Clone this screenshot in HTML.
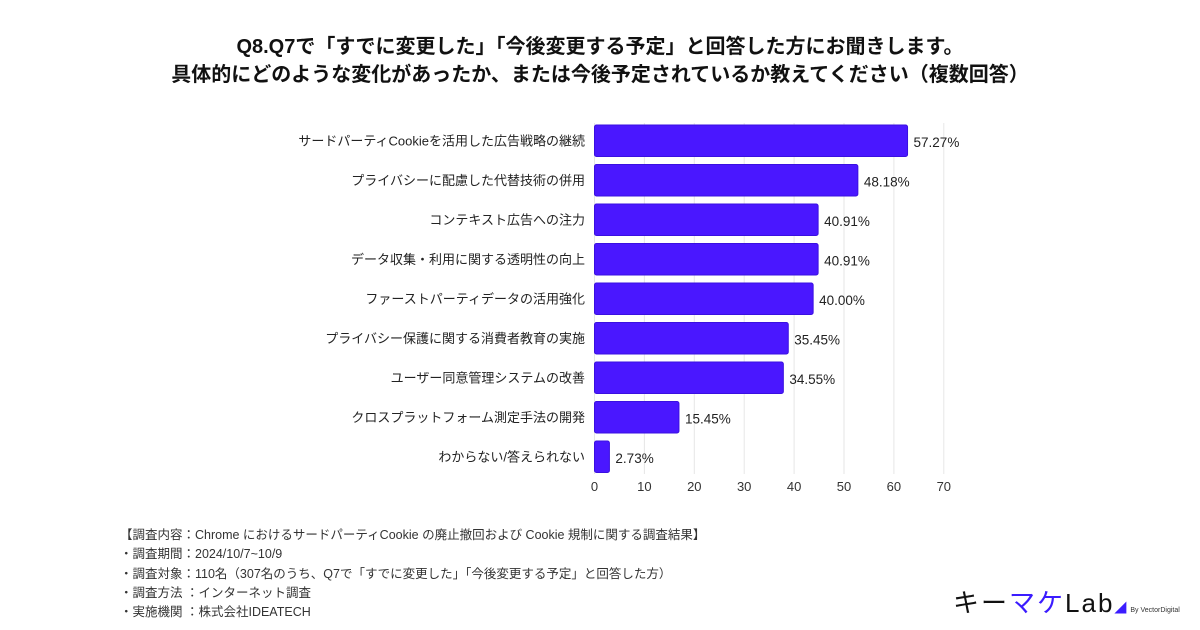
<!DOCTYPE html>
<html><head><meta charset="utf-8"><style>
body{margin:0;width:1200px;height:630px;background:#fff;overflow:hidden;font-family:"Liberation Sans","Noto Sans CJK JP",sans-serif;position:relative}
.title{position:absolute;left:0;width:1200px;top:33px;text-align:center;font-weight:bold;font-size:20px;line-height:28px;color:#111}
.foot{position:absolute;left:120px;top:526px;font-size:12.5px;line-height:19.3px;color:#333}
</style></head><body>
<div class="title">Q8.Q7で「すでに変更した」「今後変更する予定」と回答した方にお聞きします。<br>具体的にどのような変化があったか、または今後予定されているか教えてください（複数回答）</div>
<svg id="chart" width="1200" height="630" style="position:absolute;left:0;top:0"></svg>
<div class="foot">【調査内容：Chrome におけるサードパーティCookie の廃止撤回および Cookie 規制に関する調査結果】<br>・調査期間：2024/10/7~10/9<br>・調査対象：110名（307名のうち、Q7で「すでに変更した」「今後変更する予定」と回答した方）<br>・調査方法 ：インターネット調査<br>・実施機関 ：株式会社IDEATECH</div>
<div style="position:absolute;left:953px;top:590px;font-size:26px;font-weight:normal;letter-spacing:2px;line-height:26px"><span style="color:#111">キー</span><span style="color:#3b1cff">マケ</span><span style="color:#111">Lab</span><span style="color:#3b1cff;font-size:12px">◢</span><span style="font-size:7px;color:#333;letter-spacing:0;font-weight:normal"> By VectorDigital</span></div>
<script>
const categories=["サードパーティCookieを活用した広告戦略の継続","プライバシーに配慮した代替技術の併用","コンテキスト広告への注力","データ収集・利用に関する透明性の向上","ファーストパーティデータの活用強化","プライバシー保護に関する消費者教育の実施","ユーザー同意管理システムの改善","クロスプラットフォーム測定手法の開発","わからない/答えられない"];
const values=[57.27,48.18,40.91,40.91,40.00,35.45,34.55,15.45,2.73];
const valueLabels=["57.27%","48.18%","40.91%","40.91%","40.00%","35.45%","34.55%","15.45%","2.73%"];
const ticks=[0,10,20,30,40,50,60,70];
const NS="http://www.w3.org/2000/svg";
const svg=document.getElementById('chart');
const x0=594.5, axisScale=4.99, barScale=5.466;
const xAxis=v=>x0+v*axisScale;
const xBar=v=>v*barScale;
const yBand=i=>125+i*39.5;
const bh=31.5;
function mk(t,a){const e=document.createElementNS(NS,t);for(const k in a)e.setAttribute(k,a[k]);svg.appendChild(e);return e;}
ticks.forEach(t=>{
 const l=mk('line',{x1:xAxis(t),x2:xAxis(t),y1:123,y2:474,stroke:'#e6e6e6','stroke-width':1});
 
 
 const tx=mk('text',{x:xAxis(t),y:491,'text-anchor':'middle','font-size':13,fill:'#333'});
 tx.textContent=t;
 
 
});
categories.forEach((c,i)=>{
 const y=yBand(i);
 const r=mk('rect',{x:x0,y:y,width:xBar(values[i]),height:bh,rx:2,fill:'#4a17ff',stroke:'#3a10e0','stroke-width':1});
 
 
 const lb=mk('text',{x:585,y:y+bh/2+4.5,'text-anchor':'end','font-size':13,fill:'#222'});
 lb.textContent=c;
 
 
 const vl=mk('text',{x:x0+xBar(values[i])+6,y:y+bh/2+6,'font-size':13.5,fill:'#222'});
 vl.textContent=valueLabels[i];
 
 
});
</script>
</body></html>
